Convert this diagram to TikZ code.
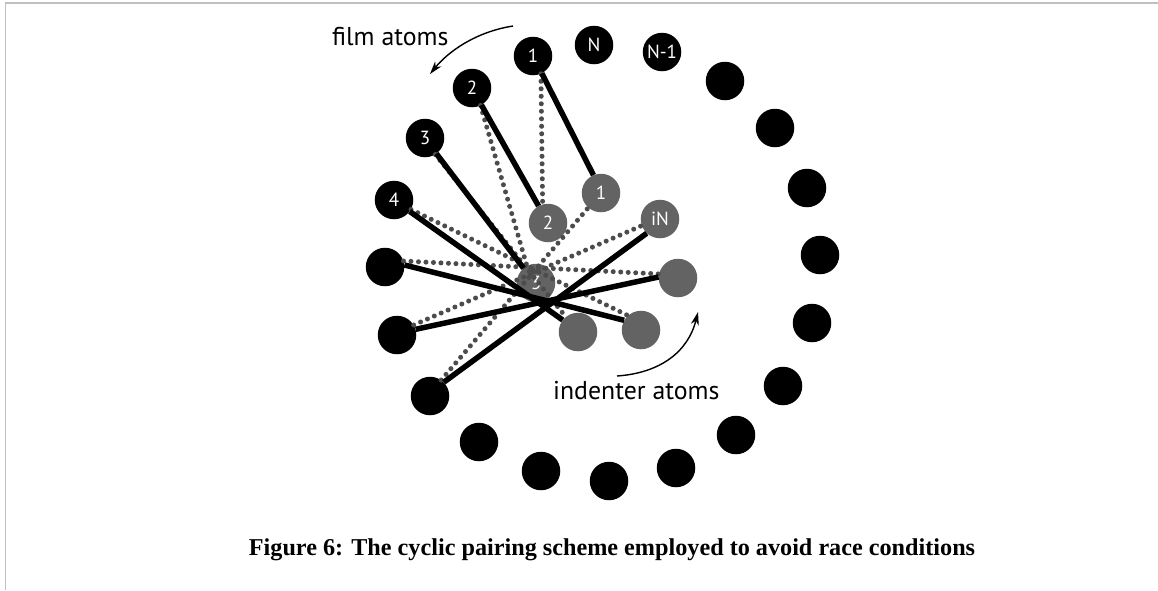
\documentclass[tikz,border=0pt]{standalone}
\usepackage{fontspec}
\setmainfont{Liberation Serif}
\newfontfamily\diagfont{PT Sans}
\usetikzlibrary{arrows.meta}
\definecolor{bordergray}{HTML}{C0C0C0}
\definecolor{indgray}{HTML}{636363}
\definecolor{dotgray}{HTML}{4C4C4C}
\begin{document}
\begin{tikzpicture}[x=1pt,y=-1pt,
 film/.style={circle,fill=black,minimum size=38.5pt,inner sep=0pt,text=white,font=\diagfont\fontsize{19}{19}\selectfont},
 ind/.style={film,fill=indgray,text=white},
 solidlink/.style={line width=5.5pt,black},
 dotlink/.style={line width=5pt,dotgray,line cap=round,dash pattern=on 0pt off 7.5pt},
 txtlabel/.style={font=\diagfont\fontsize{25.8}{25.8}\selectfont,inner sep=0pt},
 thinarrow/.style={line width=1.4pt,-{Stealth[length=13pt,width=8pt,inset=4pt]}}]
\useasboundingbox (0,0) rectangle (1158,590);
\fill[white] (0,0) rectangle (1158,590);
\draw[bordergray,line width=1.6pt] (5.5,590) -- (5.5,3) -- (1158,3);
% film atoms
\node[film] (f1) at (533,56) {1};
\node[film] (f2) at (472,88) {2};
\node[film] (f3) at (425,138) {3};
\node[film] (f4) at (394,200) {4};
\node[film] (f5) at (385,267) {};
\node[film] (f6) at (397,335) {};
\node[film] (f7) at (430,396) {};
\node[film] (f8) at (479,442) {};
\node[film] (f9) at (541,471) {};
\node[film] (f10) at (609,481) {};
\node[film] (f11) at (676,468) {};
\node[film] (f12) at (736,435) {};
\node[film] (f13) at (783,386) {};
\node[film] (f14) at (812,323) {};
\node[film] (f15) at (820,255) {};
\node[film] (f16) at (807,188) {};
\node[film] (f17) at (775,128) {};
\node[film] (f18) at (725,81) {};
\node[film] (fN1) at (662,52) {N-1};
\node[film] (fN) at (594,45) {N};
% indenter atoms
\node[ind] (i1) at (601,193) {1};
\node[ind] (i2) at (548,223) {2};
\node[ind] (i3) at (536,283) {3};
\node[ind] (i4) at (578,332) {};
\node[ind] (i5) at (641,330) {};
\node[ind] (i6) at (678,278) {};
\node[ind] (i7) at (660,219) {iN};
% dotted pairs
\draw[dotlink] (f1.-66) -- (i2.106);
\draw[dotlink] (f2.-64) -- (i3.118);
\draw[dotlink] (f3.-58) -- (i4);
\draw[dotlink] (f4.-29) -- (i5.132);
\draw[dotlink] (f5.18) -- (i6.168);
\draw[dotlink] (f6.31) -- (i7.-160);
\draw[dotlink] (f7.55) -- (i1.-131);
% solid pairs
\draw[solidlink] (f1.-63) -- (i1.113);
\draw[solidlink] (f2.-61) -- (i2.119);
\draw[solidlink] (f3.-54) -- (i3.130);
\draw[solidlink] (f4.-36) -- (i4.142);
\draw[solidlink] (f5.6) -- (i5.150);
\draw[solidlink] (f6.17) -- (i6.177);
\draw[solidlink] (f7.45) -- (i7.-133);
% labels and arrows
\node[txtlabel,anchor=base west] (filmlab) at (332,45) {film atoms};
\node[txtlabel,anchor=base west] (indlab) at (553,399) {indenter atoms};
\coordinate (fa1) at (513,26);
\coordinate (fa2) at (430,74);
\draw[thinarrow] (fa1) .. controls (475,32) and (448,52) .. (fa2);
\coordinate (ia1) at (617,376);
\coordinate (ia2) at (698,312);
\draw[thinarrow] (ia1) .. controls (660,373) and (688,352) .. (ia2);
\node[font=\bfseries\fontsize{24.2}{24.2}\selectfont,inner sep=0pt] (cap) at (612,550) {Figure 6: The cyclic pairing scheme employed to avoid race conditions};
\end{tikzpicture}
\end{document}
